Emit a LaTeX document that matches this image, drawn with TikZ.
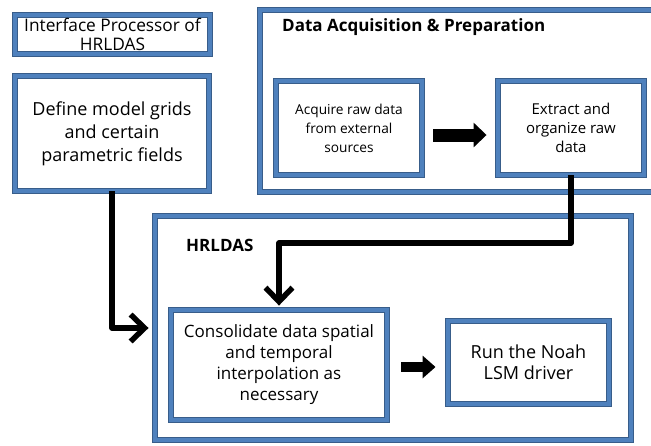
\documentclass[tikz,border=0pt]{standalone}
\usepackage{fontspec}
\setmainfont{Open Sans}
\usetikzlibrary{arrows.meta,calc}
\definecolor{boxblue}{HTML}{4F81BD}
\definecolor{boxdark}{HTML}{385D8A}
\tikzset{
  bbox/.style={draw=boxdark, line width=0.9pt, double=boxblue, double distance=3.6pt,
    fill=white, inner sep=0pt, align=center, anchor=center},
  conn/.style={line width=5.5pt, line join=round, -{Straight Barb[length=14pt,width=27pt,line width=5.5pt]}},
  blk/.style={line width=#1, -{Triangle[length=13pt,width=24pt]}},
}
\begin{document}
\begin{tikzpicture}[x=1pt,y=-1pt]
\useasboundingbox (0,0) rectangle (651,445);
% outer containers
\node[bbox, minimum width=440pt, minimum height=182pt] (data) at (480,101) {};
\node[anchor=west, inner sep=0pt, font=\fontsize{17}{20}\selectfont\bfseries] (datatitle) at (282,27) {Data Acquisition \& Preparation};
\node[bbox, minimum width=476pt, minimum height=224pt] (hrldas) at (393,328) {};
\node[anchor=west, inner sep=0pt, font=\fontsize{17}{20}\selectfont\bfseries] (hrltitle) at (186,245) {HRLDAS};
% boxes
\node[bbox, minimum width=195pt, minimum height=39pt, font=\fontsize{17.3}{19.5}\selectfont] (iface) at (112.5,34.5) {Interface Processor of\\HRLDAS};
\node[bbox, minimum width=194pt, minimum height=115pt, font=\fontsize{18}{23}\selectfont] (define) at (112,133.5) {Define model grids\\and certain\\parametric fields};
\node[bbox, minimum width=146pt, minimum height=94pt, font=\fontsize{13.7}{19}\selectfont] (acquire) at (349,128) {Acquire raw data\\from external\\sources};
\node[bbox, minimum width=146pt, minimum height=94pt, font=\fontsize{15}{19}\selectfont] (extract) at (571,128) {Extract and\\organize raw\\data};
\node[bbox, minimum width=216pt, minimum height=110pt, font=\fontsize{17}{21}\selectfont] (consol) at (279,365) {Consolidate data spatial\\and temporal\\interpolation as\\necessary};
\node[bbox, minimum width=161pt, minimum height=83pt, font=\fontsize{18}{21}\selectfont] (run) at (528.5,362.5) {Run the Noah\\LSM driver};
% connectors
\coordinate (bend) at (571,243);
\draw[conn, shorten >=6pt] (define.south) |- (hrldas.west);
\draw[conn, shorten >=4pt] (extract.south) -- (bend) -| (consol.north);
\draw[blk=13pt] ([xshift=11pt,yshift=-7pt]acquire.east) -- ([xshift=-11pt,yshift=-7pt]extract.west);
\draw[blk=10pt, -{Triangle[length=13pt,width=22pt]}] ([xshift=14pt,yshift=-2pt]consol.east) -- ([xshift=-12pt,yshift=-4.5pt]run.west);
\end{tikzpicture}
\end{document}
